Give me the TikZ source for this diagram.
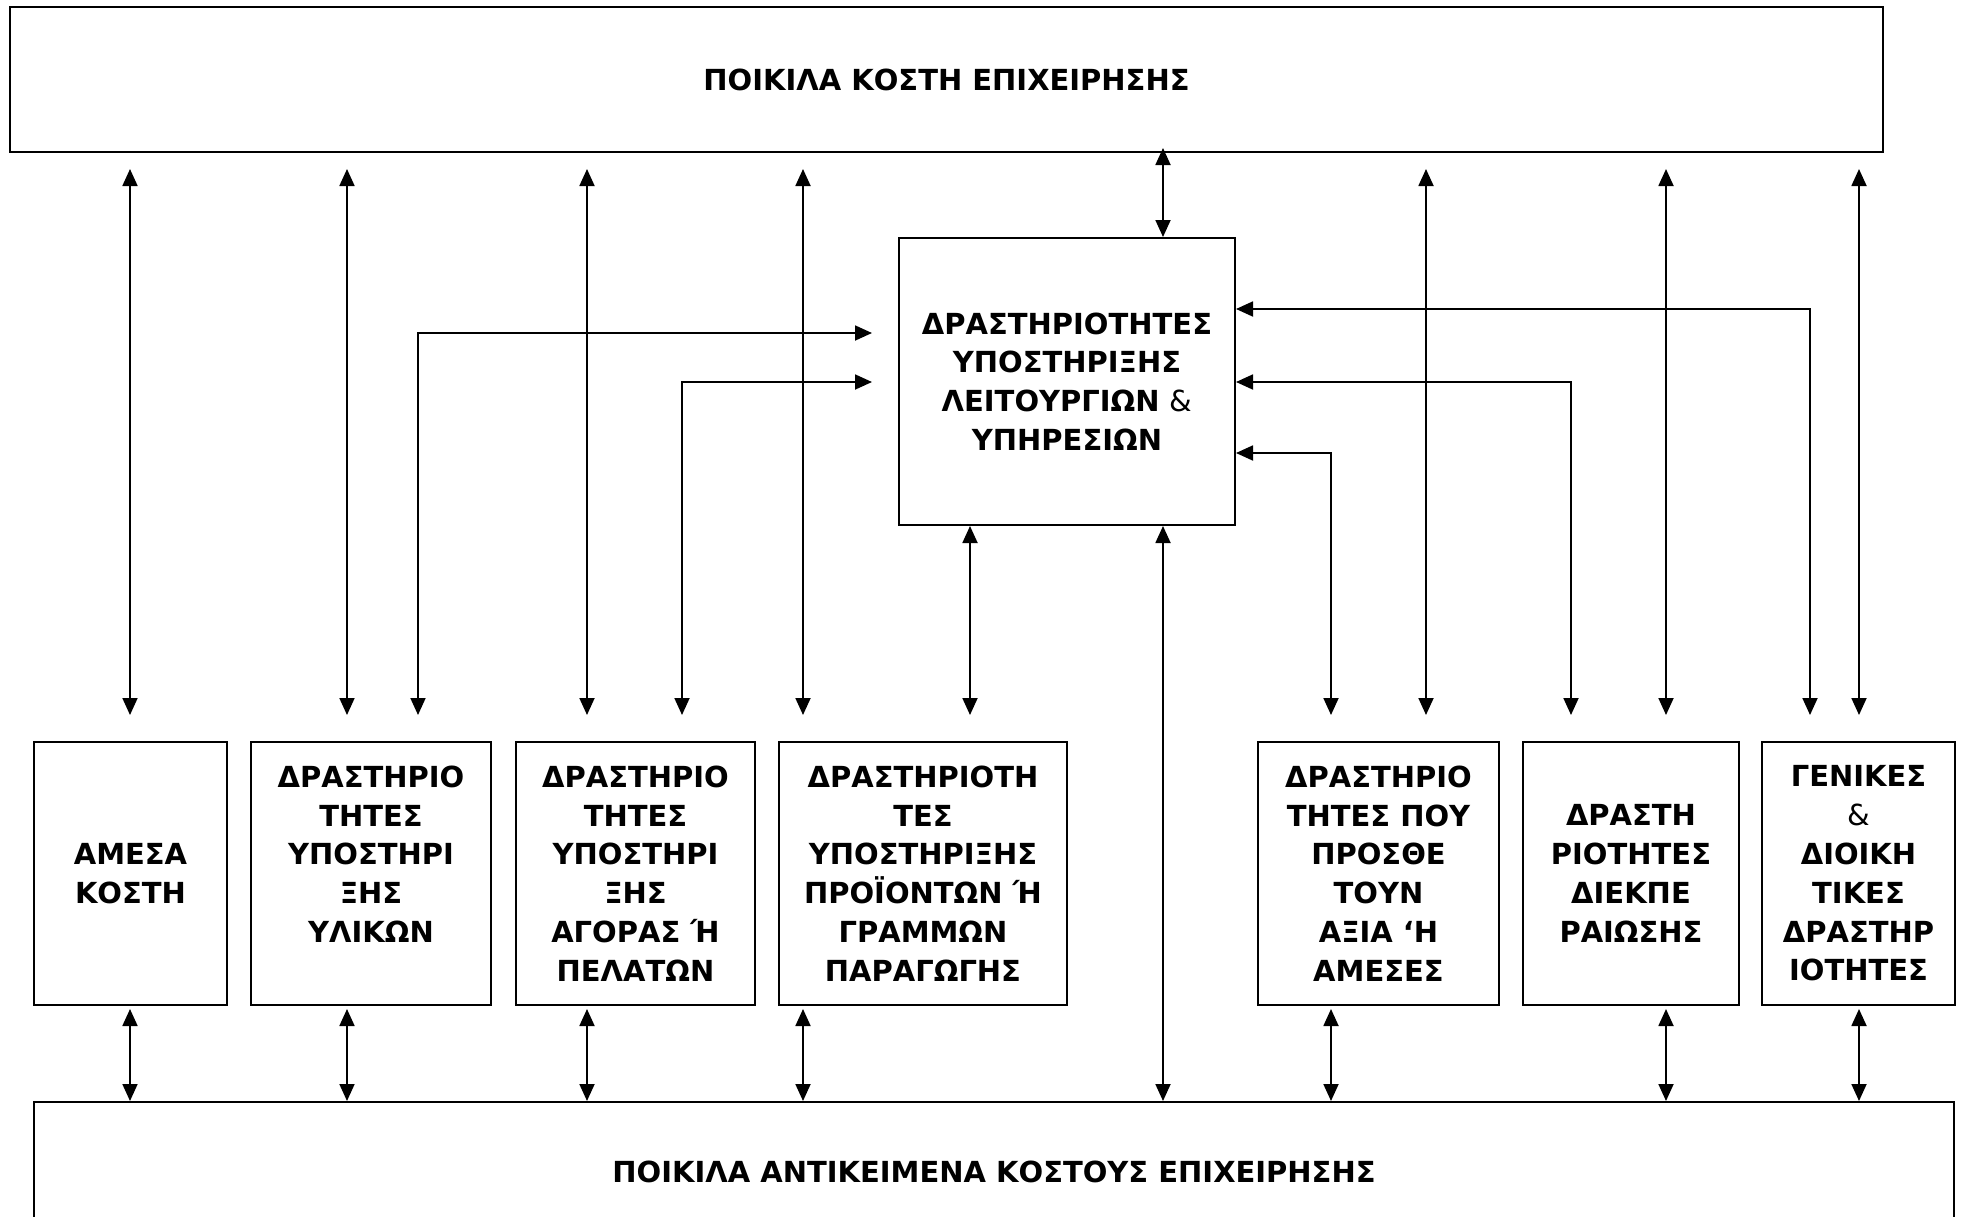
\documentclass[tikz,border=0pt]{standalone}
\usepackage{fontspec}
\setmainfont{DejaVu Sans}
\usepackage{tikz}
\usetikzlibrary{arrows.meta,calc}

\begin{document}
\begin{tikzpicture}[x=1pt,y=-1pt,
  kouti/.style={draw,line width=2pt,inner sep=0pt,align=center,
    font=\fontsize{29}{38.8}\selectfont\bfseries},
  velos/.style={{Triangle[length=17pt,width=15pt]}-{Triangle[length=17pt,width=15pt]},line width=1.8pt}]
  \clip (0,0) rectangle (1963,1216);
  % top and bottom bands
  \node[kouti,minimum width=1873pt,minimum height=145pt] (kosti) at (946.5,79.5) {ΠΟΙΚΙΛΑ ΚΟΣΤΗ ΕΠΙΧΕΙΡΗΣΗΣ};
  \node[kouti,minimum width=1920pt,minimum height=140pt] (antikeimena) at (994,1172) {ΠΟΙΚΙΛΑ ΑΝΤΙΚΕΙΜΕΝΑ ΚΟΣΤΟΥΣ ΕΠΙΧΕΙΡΗΣΗΣ};
  % support box
  \node[kouti,minimum width=336pt,minimum height=287pt] (stirixi) at (1067,381.5)
    {ΔΡΑΣΤΗΡΙΟΤΗΤΕΣ\\ΥΠΟΣΤΗΡΙΞΗΣ\\ΛΕΙΤΟΥΡΓΙΩΝ {\mdseries\&}\\ΥΠΗΡΕΣΙΩΝ};
  % lower row
  \node[kouti,minimum width=193pt,minimum height=263pt] (b1) at (130.5,873.5) {ΑΜΕΣΑ\\ΚΟΣΤΗ};
  \node[kouti,minimum width=240pt,minimum height=263pt] (b2) at (371,873.5)
    {ΔΡΑΣΤΗΡΙΟ\\ΤΗΤΕΣ\\ΥΠΟΣΤΗΡΙ\\ΞΗΣ\\ΥΛΙΚΩΝ\\\mbox{}};
  \node[kouti,minimum width=239pt,minimum height=263pt] (b3) at (635.5,873.5)
    {ΔΡΑΣΤΗΡΙΟ\\ΤΗΤΕΣ\\ΥΠΟΣΤΗΡΙ\\ΞΗΣ\\ΑΓΟΡΑΣ Ή\\ΠΕΛΑΤΩΝ};
  \node[kouti,minimum width=288pt,minimum height=263pt] (b4) at (923,873.5)
    {ΔΡΑΣΤΗΡΙΟΤΗ\\ΤΕΣ\\ΥΠΟΣΤΗΡΙΞΗΣ\\ΠΡΟΪΟΝΤΩΝ Ή\\ΓΡΑΜΜΩΝ\\ΠΑΡΑΓΩΓΗΣ};
  \node[kouti,minimum width=241pt,minimum height=263pt] (b5) at (1378.5,873.5)
    {ΔΡΑΣΤΗΡΙΟ\\ΤΗΤΕΣ ΠΟΥ\\ΠΡΟΣΘΕ\\ΤΟΥΝ\\ΑΞΙΑ ‘Η\\ΑΜΕΣΕΣ};
  \node[kouti,minimum width=216pt,minimum height=263pt] (b6) at (1631,873.5)
    {ΔΡΑΣΤΗ\\ΡΙΟΤΗΤΕΣ\\ΔΙΕΚΠΕ\\ΡΑΙΩΣΗΣ};
  \node[kouti,minimum width=193pt,minimum height=263pt] (b7) at (1858.5,873.5)
    {ΓΕΝΙΚΕΣ\\{\mdseries\&}\\ΔΙΟΙΚΗ\\ΤΙΚΕΣ\\ΔΡΑΣΤΗΡ\\ΙΟΤΗΤΕΣ};
  % lanes
  \coordinate (xA) at (130,0);  \coordinate (xB) at (347,0);
  \coordinate (xC) at (418,333); \coordinate (xD) at (587,0);
  \coordinate (xE) at (682,382); \coordinate (xF) at (803,0);
  \coordinate (xG) at (970,0);  \coordinate (xH) at (1163,0);
  \coordinate (xI) at (1331,453); \coordinate (xJ) at (1426,0);
  \coordinate (xK) at (1571,382); \coordinate (xL) at (1666,0);
  \coordinate (xM) at (1810,309); \coordinate (xN) at (1859,0);
  % top band to lower row
  \foreach \x/\b in {xA/b1,xB/b2,xD/b3,xF/b4,xJ/b5,xL/b6,xN/b7}
    \draw[velos,shorten <=16pt,shorten >=26pt] (kosti.south -| \x) -- (\b.north -| \x);
  % lower row to bottom band
  \foreach \x/\b in {xA/b1,xB/b2,xD/b3,xF/b4,xI/b5,xL/b6,xN/b7}
    \draw[velos,shorten <=3pt] (\b.south -| \x) -- (antikeimena.north -| \x);
  % support box links
  \draw[velos,shorten <=-5pt] (kosti.south -| xH) -- (stirixi.north -| xH);
  \draw[velos] (stirixi.south -| xH) -- (antikeimena.north -| xH);
  \draw[velos,shorten >=26pt] (stirixi.south -| xG) -- (b4.north -| xG);
  \draw[velos,shorten <=26pt,shorten >=26pt] (b2.north -| xC) |- (stirixi.west |- xC);
  \draw[velos,shorten <=26pt,shorten >=26pt] (b3.north -| xE) |- (stirixi.west |- xE);
  \draw[velos,shorten <=26pt] (b5.north -| xI) |- (stirixi.east |- xI);
  \draw[velos,shorten <=26pt] (b6.north -| xK) |- (stirixi.east |- xK);
  \draw[velos,shorten <=26pt] (b7.north -| xM) |- (stirixi.east |- xM);
\end{tikzpicture}
\end{document}
